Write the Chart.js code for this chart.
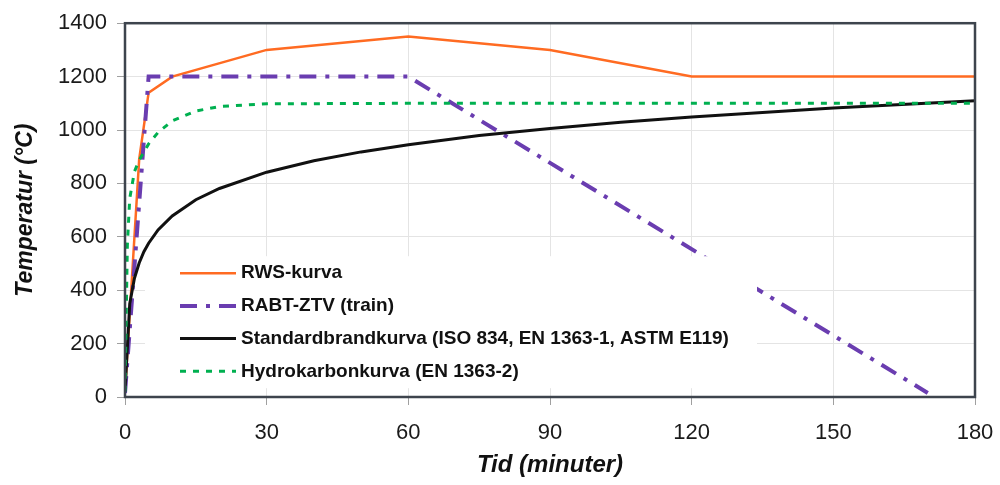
<!DOCTYPE html>
<html>
<head>
<meta charset="utf-8">
<script src="https://cdn.jsdelivr.net/npm/chart.js@4.4.1/dist/chart.umd.min.js"></script>
<style>
  html, body { margin: 0; padding: 0; background: #fff; }
  #wrap { width: 1000px; height: 485px; }
</style>
</head>
<body>
<div id="wrap"><canvas id="chartTemp" width="1000" height="485"></canvas></div>
<script>
// Brandkurvor: tid i minuter, temperatur i °C
const rwsTid = [0, 3, 5, 10, 30, 60, 90, 120, 180];
const rwsTemp = [20, 890, 1140, 1200, 1300, 1350, 1300, 1200, 1200];

const rabtTid = [0, 5, 60, 170];
const rabtTemp = [15, 1200, 1200, 15];

const isoTid = [0, 1, 2, 3, 4, 5, 7, 10, 15, 20, 30, 40, 50, 60, 75, 90, 105, 120, 150, 180];
const isoTemp = [20, 349, 445, 502, 544, 576, 626, 678, 739, 781, 842, 885, 918, 945, 979, 1006, 1029, 1049, 1082, 1110];

const hcTid = [0, 0.5, 1, 2, 3, 5, 7, 10, 15, 20, 30, 60, 120, 180];
const hcTemp = [20, 569, 743, 844, 887, 948, 991, 1034, 1071, 1088, 1098, 1100, 1100, 1100];

const seriesLabels = [
  "RWS-kurva",
  "RABT-ZTV (train)",
  "Standardbrandkurva (ISO 834, EN 1363-1, ASTM E119)",
  "Hydrokarbonkurva (EN 1363-2)",
];

function points(tid, temp) {
  return tid.map((t, i) => ({ x: t, y: temp[i] }));
}

Chart.defaults.font.family = "'Liberation Sans', Arial, sans-serif";
Chart.defaults.color = "#1a1a1a";

// ram runt diagramytan
const plotBox = {
  id: "plotBox",
  afterDatasetsDraw(chart) {
    const { ctx, chartArea: a } = chart;
    ctx.save();
    ctx.strokeStyle = "#3d444d";
    ctx.lineWidth = 2.5;
    ctx.strokeRect(a.left, a.top, a.right - a.left, a.bottom - a.top);
    ctx.restore();
  },
};

// förklaring inne i diagrammet, med vit bakgrund
const legendInside = {
  id: "legendInside",
  afterDatasetsDraw(chart) {
    const { ctx, chartArea } = chart;
    const x0 = chartArea.left + 20;
    const y0 = chartArea.top + 233;
    ctx.save();
    ctx.fillStyle = "#fff";
    ctx.fillRect(x0, y0, 612, 132);
    chart.data.datasets.forEach((ds, i) => {
      const y = y0 + 17 + i * 32.7;
      ctx.beginPath();
      ctx.setLineDash(ds.borderDash || []);
      ctx.lineWidth = ds.borderWidth;
      ctx.strokeStyle = ds.borderColor;
      ctx.moveTo(x0 + 35, y);
      ctx.lineTo(x0 + 91, y);
      ctx.stroke();
      ctx.setLineDash([]);
      ctx.fillStyle = "#111";
      ctx.font = "bold 19px 'Liberation Sans', Arial, sans-serif";
      ctx.textBaseline = "middle";
      ctx.fillText(ds.label, x0 + 96, y);
    });
    ctx.restore();
  },
};

const chartTemp = document.getElementById("chartTemp");
new Chart(chartTemp, {
  type: "line",
  data: {
    datasets: [
      {
        label: seriesLabels[0],
        data: points(rwsTid, rwsTemp),
        borderColor: "#ff6b22",
        borderWidth: 2.5,
        order: 3,
      },
      {
        label: seriesLabels[1],
        data: points(rabtTid, rabtTemp),
        borderColor: "#6a3db0",
        borderWidth: 4,
        borderDash: [17, 9, 4, 9],
        order: 2,
      },
      {
        label: seriesLabels[2],
        data: points(isoTid, isoTemp),
        borderColor: "#111111",
        borderWidth: 3,
        order: 1,
      },
      {
        label: seriesLabels[3],
        data: points(hcTid, hcTemp),
        borderColor: "#00b050",
        borderWidth: 3,
        borderDash: [6, 7],
        order: 0,
      },
    ],
  },
  options: {
    responsive: false,
    animation: false,
    elements: {
      point: { radius: 0 },
      line: { tension: 0, fill: false },
    },
    layout: {
      padding: { top: 22, right: 25, left: 0, bottom: 0 },
    },
    scales: {
      x: {
        type: "linear",
        min: 0,
        max: 180,
        afterFit: (scale) => {
          scale.height = 88;
          scale.paddingLeft = 0;
          scale.paddingRight = 0;
        },
        ticks: {
          stepSize: 30,
          maxRotation: 0,
          padding: 15,
          font: { size: 22 },
          color: "#1a1a1a",
        },
        grid: {
          color: "#e4e4e4",
          tickColor: "#a0a0a0",
          tickLength: 8,
        },
        border: { display: false },
        title: {
          display: true,
          text: "Tid (minuter)",
          font: { size: 24, weight: "bold", style: "italic" },
          padding: { top: 0, bottom: 5 },
          color: "#111",
        },
      },
      y: {
        min: 0,
        max: 1400,
        afterFit: (scale) => {
          scale.width = 125;
        },
        ticks: {
          stepSize: 200,
          padding: 10,
          font: { size: 22 },
          color: "#1a1a1a",
          callback: (v) => String(v),
        },
        grid: {
          color: "#e4e4e4",
          tickColor: "#a0a0a0",
          tickLength: 8,
        },
        border: { display: false },
        title: {
          display: true,
          text: "Temperatur (°C)",
          font: { size: 23, weight: "bold", style: "italic" },
          padding: { top: 12, bottom: 0 },
          color: "#111",
        },
      },
    },
    plugins: {
      legend: { display: false },
      tooltip: { enabled: false },
    },
  },
  plugins: [plotBox, legendInside],
});
</script>
</body>
</html>
